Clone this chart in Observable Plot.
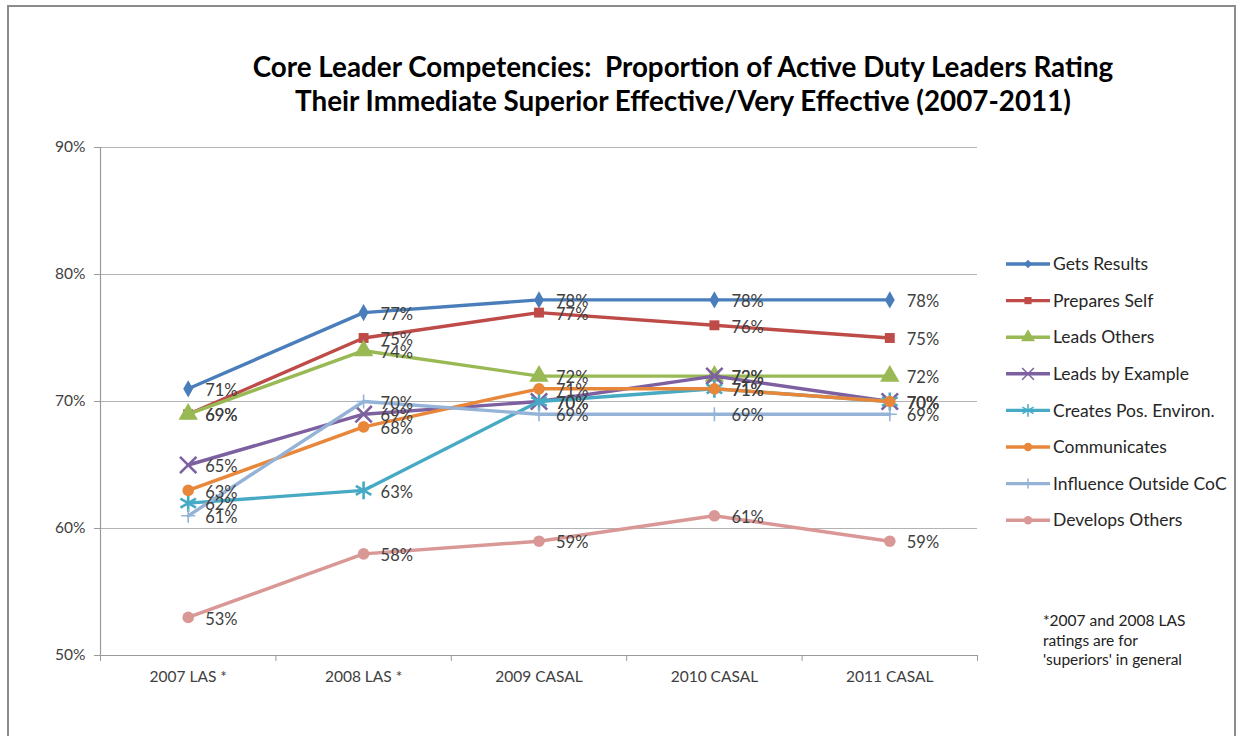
<!DOCTYPE html>
<html>
<head>
<meta charset="utf-8">
<script src="https://cdn.jsdelivr.net/npm/d3@7"></script>
<script src="https://cdn.jsdelivr.net/npm/@observablehq/plot@0.6"></script>
<style>
  html, body { margin: 0; padding: 0; background: #fff; }
  #frame { position: relative; width: 1239px; height: 736px; overflow: hidden; font-family: Lato, "Open Sans", sans-serif; }
  #border { position: absolute; left: 7px; top: 5px; width: 1229px; height: 740px; border: 2px solid #8c8c8c; box-sizing: border-box; }
  #title { position: absolute; left: 0; width: 1366px; top: 50px; text-align: center; font-weight: bold; font-size: 27.8px; line-height: 34px; color: #000; }
  #note { position: absolute; left: 1043px; top: 611px; font-size: 15.5px; line-height: 19.5px; color: #222; }
  #chart { position: absolute; left: 0; top: 0; }
</style>
</head>
<body>
<div id="frame">
  <div id="border"></div>
  <div id="chart"></div>
  <div id="title">Core Leader Competencies:&nbsp; Proportion of Active Duty Leaders Rating<br>Their Immediate Superior Effective/Very Effective (2007-2011)</div>
  <div id="note">*2007 and 2008 LAS<br>ratings are for<br>'superiors' in general</div>
</div>
<script>
const categories = ["2007 LAS *", "2008 LAS *", "2009 CASAL", "2010 CASAL", "2011 CASAL"];
const seriesNames = ["Gets Results", "Prepares Self", "Leads Others", "Leads by Example", "Creates Pos. Environ.", "Communicates", "Influence Outside CoC", "Develops Others"];
const getsResults      = [71, 77, 78, 78, 78];
const preparesSelf     = [69, 75, 77, 76, 75];
const leadsOthers      = [69, 74, 72, 72, 72];
const leadsByExample   = [65, 69, 70, 72, 70];
const createsPosEnv    = [62, 63, 70, 71, 70];
const communicates     = [63, 68, 71, 71, 70];
const influenceOutside = [61, 70, 69, 69, 69];
const developsOthers   = [53, 58, 59, 61, 59];
const yTicks = [50, 60, 70, 80, 90];

const seriesValues = [getsResults, preparesSelf, leadsOthers, leadsByExample, createsPosEnv, communicates, influenceOutside, developsOthers];
const colors  = ["#4A7EBB", "#BE4B48", "#98B954", "#7D60A0", "#46AAC5", "#E8873A", "#95B3D7", "#D99795"];
const symbols = ["diamond", "square", "triangle", "times", "asterisk", "circle", "plus", "circle"];
const sizes   = [5.2, 5.6, 7.2, 7.5, 8.5, 5.8, 4.6, 5.8];
const strokeSymbols = new Set(["times", "asterisk", "plus"]);

const rows = [];
seriesNames.forEach((s, si) => {
  seriesValues[si].forEach((v, i) => rows.push({series: s, si, i, value: v}));
});

const W = 1239, H = 736;
const boundaries = d3.range(categories.length + 1).map(i => i - 0.5);

const marks = [
  Plot.gridY(yTicks.slice(1), {stroke: "#b3b3b3", strokeOpacity: 1, strokeWidth: 1.2}),
  Plot.axisY(yTicks, {tickSize: 6, tickPadding: 9, tickFormat: d => d + "%", fontSize: 15.5, color: "#404040", stroke: "#9a9a9a", label: null}),
  Plot.ruleX([-0.5], {stroke: "#9a9a9a", strokeWidth: 1.2}),
  Plot.ruleY([50], {stroke: "#9a9a9a", strokeWidth: 1.2}),
  Plot.axisX(boundaries, {tickSize: 6, tickFormat: () => "", stroke: "#9a9a9a", label: null}),
  Plot.axisX(d3.range(categories.length), {tickSize: 0, tickPadding: 15, tickFormat: i => categories[i], fontSize: 15.5, color: "#404040", label: null}),
];
seriesNames.forEach((s, si) => {
  const data = rows.filter(d => d.si === si);
  marks.push(Plot.line(data, {x: "i", y: "value", stroke: colors[si], strokeWidth: 3.4, strokeLinejoin: "round"}));
  if (strokeSymbols.has(symbols[si])) {
    marks.push(Plot.dot(data, {x: "i", y: "value", symbol: symbols[si], r: sizes[si], stroke: colors[si], strokeWidth: si === 6 ? 1.6 : 2.6, fill: "none"}));
  } else {
    marks.push(Plot.dot(data, {x: "i", y: "value", symbol: symbols[si], r: sizes[si], fill: colors[si], stroke: "none"}));
  }
});
seriesNames.forEach((s, si) => {
  const data = rows.filter(d => d.si === si);
  marks.push(Plot.text(data, {x: "i", y: "value", text: d => d.value + "%", dx: 17, dy: 2, textAnchor: "start", fontSize: 16.5, fill: "#404040"}));
});

const chart = Plot.plot({
  width: W,
  height: H,
  marginLeft: 100,
  marginRight: 262,
  marginTop: 147,
  marginBottom: 81,
  style: {fontFamily: "Lato, 'Open Sans', sans-serif", background: "transparent", overflow: "visible"},
  x: {domain: [-0.5, categories.length - 0.5], axis: null},
  y: {domain: [50, 90], axis: null},
  marks
});
document.getElementById("chart").appendChild(chart);

// Legend (drawn into the same SVG)
const svg = d3.select(chart);
const lg = svg.append("g").attr("font-family", "Lato, 'Open Sans', sans-serif").attr("text-anchor", "start");
const symMap = {diamond: d3.symbolDiamond2, square: d3.symbolSquare, triangle: d3.symbolTriangle, times: d3.symbolTimes, asterisk: d3.symbolAsterisk, circle: d3.symbolCircle, plus: d3.symbolPlus};
seriesNames.forEach((s, si) => {
  const y = 264 + si * 36.6;
  const g = lg.append("g").attr("transform", `translate(0,${y})`);
  g.append("line").attr("x1", 1006).attr("x2", 1050).attr("y1", 0).attr("y2", 0).attr("stroke", colors[si]).attr("stroke-width", 3.4);
  const r = sizes[si] * 0.72;
  const path = d3.symbol(symMap[symbols[si]], r * r * Math.PI)();
  const p = g.append("path").attr("d", path).attr("transform", "translate(1028,0)");
  if (strokeSymbols.has(symbols[si])) p.attr("fill", "none").attr("stroke", colors[si]).attr("stroke-width", 1.5);
  else p.attr("fill", colors[si]);
  g.append("text").attr("x", 1053).attr("y", 0).attr("dy", "0.35em").attr("text-anchor", "start").attr("font-size", 17.5).attr("fill", "#262626").text(s);
});
</script>
</body>
</html>
